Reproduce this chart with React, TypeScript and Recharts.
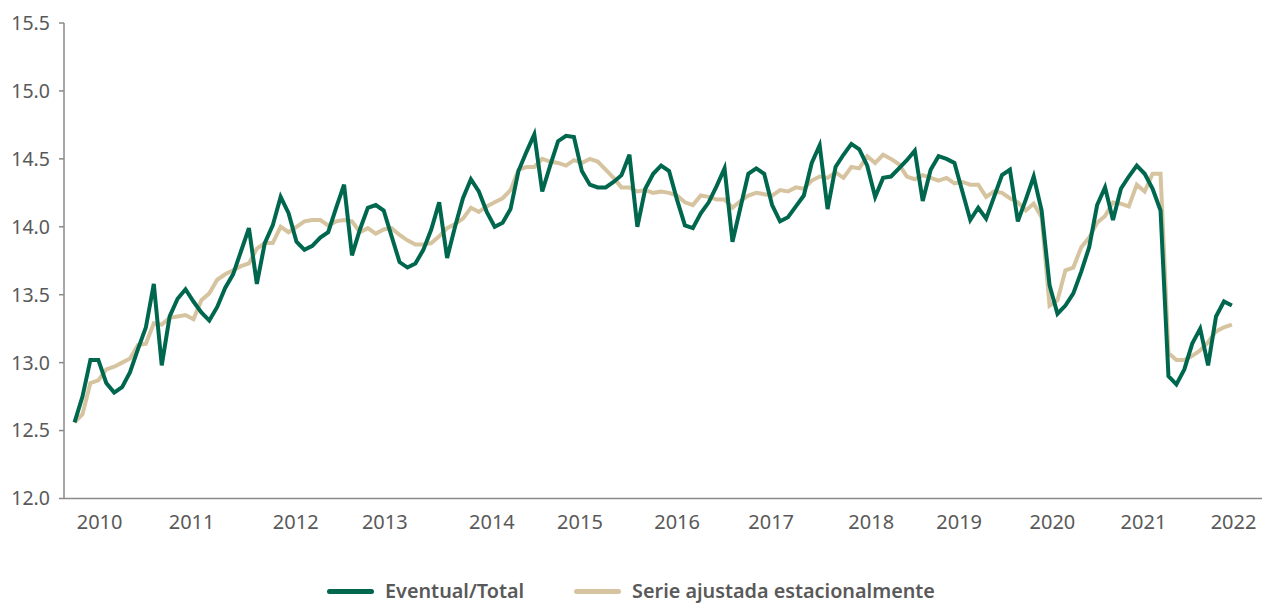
import { LineChart, Line, XAxis, YAxis, Legend } from "recharts";

// monthly share
const eventualTotal = [
  12.56, 12.75, 13.02, 13.02, 12.85, 12.78, 12.82, 12.93, 13.1, 13.26,
  13.58, 12.98, 13.34, 13.47, 13.54, 13.45, 13.37, 13.31, 13.41, 13.55,
  13.65, 13.82, 13.99, 13.58, 13.88, 14.01, 14.22, 14.1, 13.89,
  13.83, 13.86, 13.92, 13.96, 14.14, 14.31, 13.79, 13.98, 14.14, 14.16,
  14.12, 13.93, 13.74, 13.7, 13.73, 13.83, 13.98, 14.18, 13.77, 14.0,
  14.21, 14.35, 14.26, 14.11, 14.0, 14.03, 14.13, 14.41, 14.55,
  14.68, 14.26, 14.45, 14.63, 14.67, 14.66, 14.41, 14.31, 14.29, 14.29,
  14.33, 14.38, 14.53, 14.0, 14.28, 14.39, 14.45, 14.41, 14.2, 14.01,
  13.99, 14.1, 14.18, 14.3, 14.43, 13.89, 14.14, 14.39, 14.43,
  14.39, 14.16, 14.04, 14.07, 14.15, 14.23, 14.47, 14.6, 14.13, 14.44,
  14.53, 14.61, 14.57, 14.45, 14.22, 14.36, 14.37, 14.43, 14.49, 14.56,
  14.19, 14.42, 14.52, 14.5, 14.47, 14.26, 14.05, 14.14, 14.06,
  14.22, 14.38, 14.42, 14.04, 14.2, 14.37, 14.12,
  13.57, 13.36, 13.42, 13.51, 13.67, 13.85, 14.16, 14.29,
  14.05, 14.28, 14.37, 14.45, 14.39, 14.28, 14.12,
  12.9, 12.84, 12.95, 13.14, 13.25, 12.98, 13.34, 13.45, 13.42,
];

const serieAjustada = [
  12.56, 12.62, 12.85, 12.87, 12.95, 12.97, 13.0, 13.03, 13.13, 13.14,
  13.29, 13.28, 13.33, 13.34, 13.35, 13.32, 13.46, 13.51, 13.61, 13.65,
  13.68, 13.71, 13.73, 13.84, 13.88, 13.88, 14.0, 13.96, 14.0,
  14.04, 14.05, 14.05, 14.01, 14.04, 14.05, 14.04, 13.96, 13.99, 13.95,
  13.98, 13.99, 13.94, 13.9, 13.87, 13.87, 13.88, 13.93, 13.99, 14.02,
  14.06, 14.14, 14.11, 14.15, 14.18, 14.21, 14.27, 14.42, 14.44,
  14.44, 14.5, 14.48, 14.47, 14.45, 14.49, 14.47, 14.5, 14.48, 14.42,
  14.36, 14.29, 14.29, 14.26, 14.27, 14.25, 14.26, 14.25, 14.23, 14.18,
  14.16, 14.23, 14.22, 14.2, 14.2, 14.14, 14.19, 14.23, 14.25,
  14.24, 14.23, 14.27, 14.26, 14.29, 14.28, 14.34, 14.37, 14.36, 14.4,
  14.36, 14.44, 14.43, 14.52, 14.47, 14.53, 14.5, 14.46, 14.37, 14.35,
  14.38, 14.36, 14.34, 14.36, 14.32, 14.33, 14.31, 14.31, 14.22,
  14.26, 14.25, 14.21, 14.18, 14.12, 14.17, 14.07,
  13.42, 13.46, 13.68, 13.7, 13.85, 13.92, 14.03, 14.08,
  14.18, 14.17, 14.15, 14.31, 14.26, 14.39, 14.39,
  13.07, 13.02, 13.02, 13.05, 13.09, 13.15, 13.23, 13.26, 13.28,
];

const years = ["2010", "2011", "2012", "2013", "2014", "2015", "2016", "2017", "2018", "2019", "2020", "2021", "2022"];
// where the year labels and the separators sit, in month-index units
const yearLabelAt = [3.16, 14.77, 27.9, 39.14, 52.65, 63.76, 76.01, 87.88, 100.5, 111.6, 123.36, 134.85, 146.21];
const yearBreaks = [9.22, 21.59, 33.59, 45.83, 58.33, 70.2, 82.32, 93.94, 106.06, 117.3, 129.55, 140.53];
const yTicks = [12, 12.5, 13, 13.5, 14, 14.5, 15, 15.5];

const GREEN = "#00674f";
const TAN = "#d6c4a0";
const TEXT = "#595959";
const AXIS = "#8a8a8a";

const data = eventualTotal.map((v, i) => ({ i, eventual: v, ajustada: serieAjustada[i] }));

const LegendBox = () => (
  <div style={{ height: 59.5, display: "flex", justifyContent: "center", alignItems: "flex-end", boxSizing: "border-box", paddingBottom: 4 }}>
    {[
      { name: "Eventual/Total", color: GREEN },
      { name: "Serie ajustada estacionalmente", color: TAN },
    ].map((item, k) => (
      <div key={item.name} style={{ display: "flex", alignItems: "center", marginLeft: k ? 50 : 0, height: 22 }}>
        <span style={{ width: 47, height: 5, borderRadius: 3, background: item.color, marginRight: 11 }} />
        <span style={{ fontSize: 19.8, fontWeight: 600, color: TEXT, lineHeight: "22px" }}>{item.name}</span>
      </div>
    ))}
  </div>
);

export default function App() {
  return (
    <div style={{ position: "absolute", left: 0, top: 0, fontFamily: "'Noto Sans', sans-serif" }}>
      <LineChart width={1266} height={606} data={data} margin={{ top: 23, right: 4, left: 0, bottom: 0 }}>
        <XAxis
          xAxisId="breaks"
          dataKey="i"
          type="number"
          domain={[-1.33, 149.8]}
          allowDataOverflow
          ticks={yearBreaks}
          interval={0}
          tick={false}
          tickSize={6}
          height={8}
          stroke={AXIS}
          strokeWidth={1.5}
        />
        <XAxis
          xAxisId="years"
          dataKey="i"
          type="number"
          domain={[-1.33, 149.8]}
          allowDataOverflow
          ticks={yearLabelAt}
          interval={0}
          axisLine={false}
          tickLine={false}
          tickSize={0}
          tickMargin={8}
          height={40}
          tick={{ fontSize: 20, fill: TEXT }}
          tickFormatter={(_v: number, idx: number) => years[idx]}
        />
        <YAxis
          domain={[12, 15.5]}
          ticks={yTicks}
          interval={0}
          width={64}
          tickSize={5}
          tickMargin={9}
          stroke={AXIS}
          strokeWidth={1.5}
          tick={{ fontSize: 19.5, fill: TEXT }}
          tickFormatter={(v: number) => v.toFixed(1)}
        />
        <Legend verticalAlign="bottom" height={59.5} content={() => <LegendBox />} />
        <Line
          xAxisId="breaks"
          type="linear"
          dataKey="ajustada"
          name="Serie ajustada estacionalmente"
          stroke={TAN}
          strokeWidth={4}
          dot={false}
          isAnimationActive={false}
        />
        <Line
          xAxisId="years"
          type="linear"
          dataKey="eventual"
          name="Eventual/Total"
          stroke={GREEN}
          strokeWidth={4}
          dot={false}
          isAnimationActive={false}
        />
      </LineChart>
    </div>
  );
}
